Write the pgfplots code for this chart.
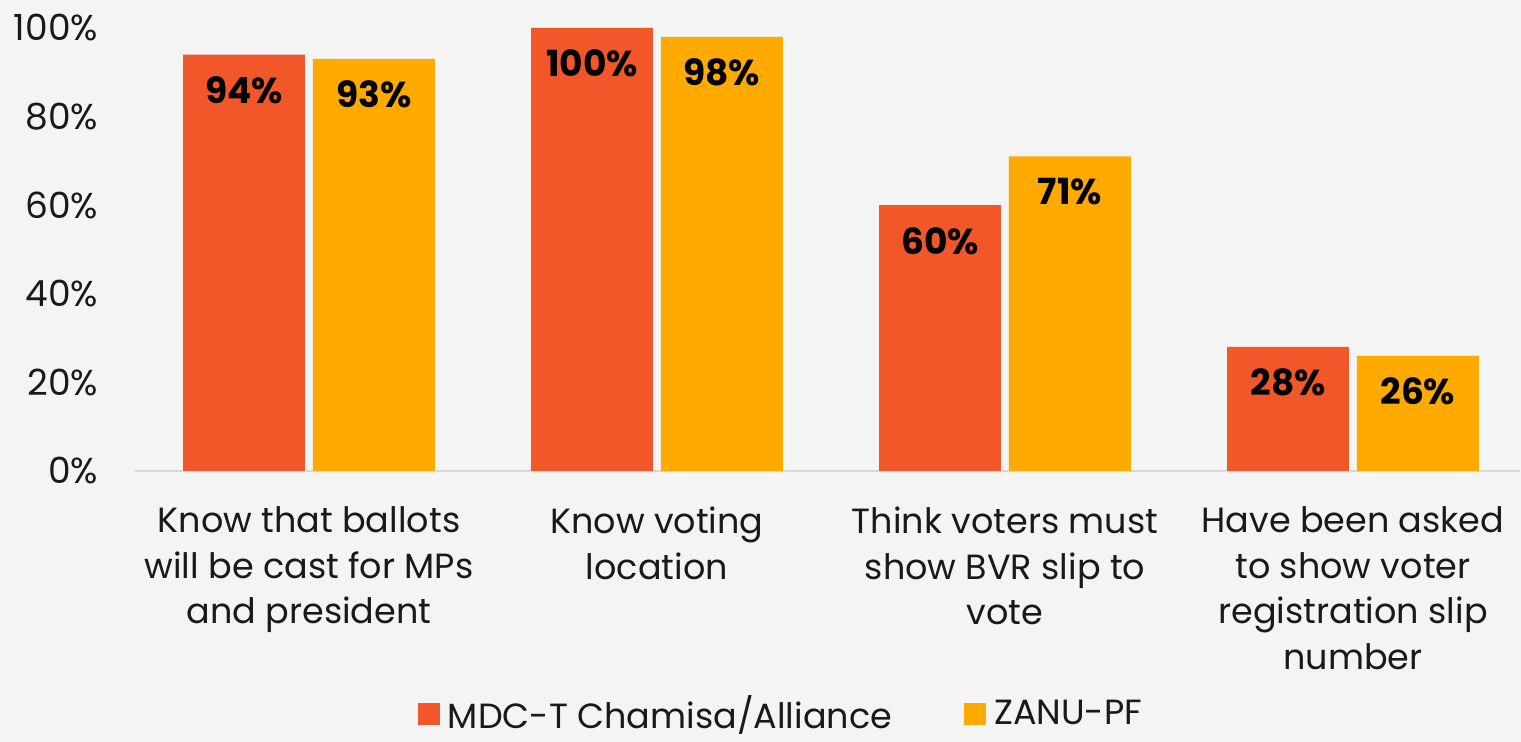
\documentclass[border=0pt]{standalone}
\usepackage{fontspec}
\setmainfont{Poppins}
\usepackage{pgfplots}
\pgfplotsset{compat=1.18}
\definecolor{mdc}{RGB}{241,87,41}
\definecolor{zanu}{RGB}{255,170,0}
\definecolor{bg}{RGB}{244,244,244}
\definecolor{baseline}{RGB}{215,215,215}

\begin{document}
\begin{tikzpicture}
% page = 1521 x 742 px, 1 px = 0.5pt
\path[fill=bg, use as bounding box] (0,0) rectangle (760.5pt,371pt);
\begin{axis}[
    at={(67.5pt,135.5pt)}, anchor=south west,
    scale only axis,
    width=692.5pt, height=221.5pt,
    xmin=-0.5, xmax=3.48,
    ymin=0, ymax=100,
    ybar=4pt,
    bar width=0.35,
    axis lines*=left,
    y axis line style={draw=none},
    x axis line style={draw=baseline, line width=0.8pt},
    major tick length=0pt,
    ytick={0,20,40,60,80,100},
    yticklabel={\pgfmathprintnumber{\tick}\%},
    /pgf/number format/assume math mode=true,
    yticklabel style={anchor=east, xshift=-15pt, font=\fontsize{18}{22}\selectfont, text=black!90},
    xtick=data,
    xticklabels={{Know that ballots\\will be cast for MPs\\and president},
                 {Know voting\\location},
                 {Think voters must\\show BVR slip to\\vote},
                 {Have been asked\\to show voter\\registration slip\\number}},
    xticklabel style={align=center, anchor=north, yshift=-14.5pt, font=\fontsize{17.5}{22.75}\selectfont, text=black!90},
    nodes near coords={\pgfmathprintnumber{\pgfplotspointmeta}\%},
    nodes near coords style={anchor=north, yshift=-7.5pt, font=\fontsize{18}{22}\selectfont\bfseries, text=black},
    legend columns=2,
    legend style={at={(0.4664,-0.548)}, anchor=center, draw=none, fill=none,
        inner sep=0pt, nodes={inner sep=1pt},
        font=\fontsize{17.5}{22}\selectfont, text=black!90,
        /tikz/every odd column/.append style={column sep=3pt},
        /tikz/every even column/.append style={column sep=35pt}},
    legend image code/.code={\fill[#1] (0pt,-5.5pt) rectangle (11pt,5.5pt);},
]
\addplot[fill=mdc, draw=none] coordinates {(0,94) (1,100) (2,60) (3,28)};
\addlegendentry{MDC-T Chamisa/Alliance}
\addplot[fill=zanu, draw=none] coordinates {(0,93) (1,98) (2,71) (3,26)};
\addlegendentry{ZANU-PF}
\end{axis}
\end{tikzpicture}
\end{document}
